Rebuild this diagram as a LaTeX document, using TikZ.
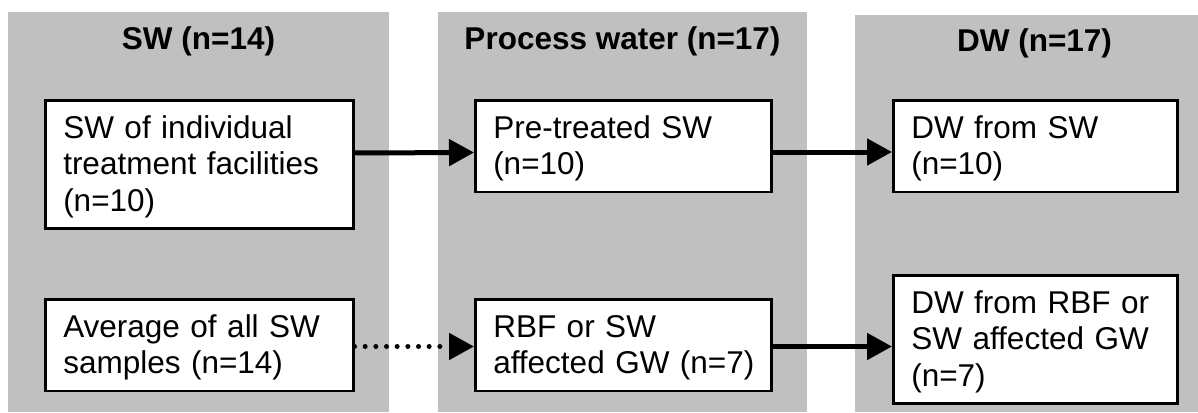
\documentclass[tikz,border=0pt]{standalone}
\usepackage{fontspec}
\setmainfont{Liberation Sans}
\usetikzlibrary{arrows.meta,calc}
\definecolor{panelgray}{RGB}{192,192,192}
\begin{document}
\begin{tikzpicture}[x=1pt,y=-1pt,
  panel/.style={fill=panelgray,draw=none},
  paneltitle/.style={font=\fontsize{31.5}{36.7}\selectfont\bfseries,anchor=base,inner sep=0pt},
  box/.style={draw=black,line width=2.5pt,fill=white,anchor=north west,inner xsep=18pt,inner ysep=0pt,align=left,font=\fontsize{31.5}{36.7}\selectfont},
  arr/.style={line width=5pt,-{Triangle[length=25pt,width=26pt]}},
  dotarr/.style={arr,line cap=round,dash pattern=on 0pt off 10.67pt}
]
\useasboundingbox (0,0) rectangle (1198,412);
% panels
\fill[panel] (8,12) rectangle (389,412);
\fill[panel] (438,12) rectangle (807,412);
\fill[panel] (855,15) rectangle (1198,412);
% titles
\node[paneltitle] (t1) at (198.5,50) {SW (n=14)};
\node[paneltitle] (t2) at (622.5,50) {Process water (n=17)};
\node[paneltitle] (t3) at (1034.5,52) {DW (n=17)};
% boxes
\node[box,text width=272pt] (b1) at (44,99)
  {\mbox{\rule{0pt}{38pt}SW of individual}\\ \mbox{treatment facilities}\\ \mbox{(n=10)\rule[-17pt]{0pt}{17pt}}};
\node[box,text width=272pt] (b2) at (44,298)
  {\mbox{\rule{0pt}{38pt}Average of all SW}\\ \mbox{samples (n=14)\rule[-17pt]{0pt}{17pt}}};
\node[box,text width=260pt] (b3) at (474,99)
  {\mbox{\rule{0pt}{38pt}Pre-treated SW}\\ \mbox{(n=10)\rule[-17pt]{0pt}{17pt}}};
\node[box,text width=260pt] (b4) at (474,298)
  {\mbox{\rule{0pt}{38pt}RBF or SW}\\ \mbox{affected GW (n=7)\rule[-17pt]{0pt}{17pt}}};
\node[box,text width=248pt] (b5) at (892,99)
  {\mbox{\rule{0pt}{38pt}DW from SW}\\ \mbox{(n=10)\rule[-17pt]{0pt}{17pt}}};
\node[box,text width=248pt] (b6) at (892,274)
  {\mbox{\rule{0pt}{38pt}DW from RBF or}\\ \mbox{SW affected GW}\\ \mbox{(n=7)\rule[-17pt]{0pt}{17pt}}};
% connectors
\draw[arr] ([yshift=-54pt]b1.north east) -- ([yshift=-53.5pt]b3.north west);
\draw[arr] ([yshift=-53pt]b3.north east) -- ([yshift=-53pt]b5.north west);
\draw[dotarr] ([yshift=-48.5pt]b2.north east) -- ([yshift=-48.5pt]b4.north west);
\draw[arr] ([yshift=-48.5pt]b4.north east) -- ([yshift=-72.5pt]b6.north west);
\end{tikzpicture}
\end{document}
